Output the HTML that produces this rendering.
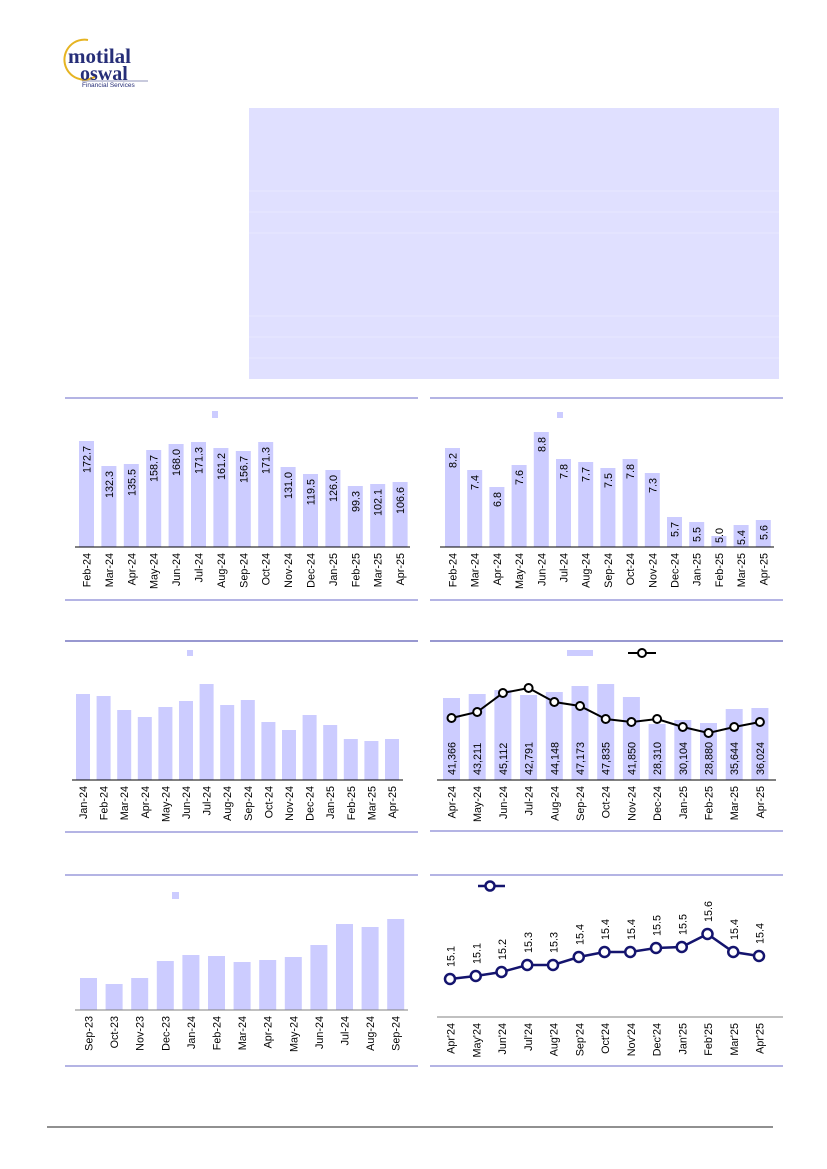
<!DOCTYPE html>
<html><head><meta charset="utf-8"><style>
html,body{margin:0;padding:0;background:#fff}
svg{display:block}
text{font-family:"Liberation Sans",sans-serif}
.t{font-size:10.8px;fill:#000}
.b{fill:#ccccff}
</style></head><body>
<svg width="827" height="1169" viewBox="0 0 827 1169" xmlns="http://www.w3.org/2000/svg">
<!-- logo -->
<path d="M88 40 A20 20 0 1 0 96 76" fill="none" stroke="#e6b422" stroke-width="2"/>
<text x="68" y="63" font-weight="bold" font-size="21" fill="#262e78" style="font-family:'Liberation Serif',serif">motilal</text>
<text x="80" y="80" font-weight="bold" font-size="20" fill="#262e78" style="font-family:'Liberation Serif',serif">oswal</text>
<line x1="82" y1="81" x2="148" y2="81" stroke="#262e78" stroke-width="0.6"/>
<text x="82" y="87" font-size="6.5" fill="#262e78">Financial Services</text>

<!-- top box -->
<rect x="249" y="108" width="530" height="271" fill="#e0e0ff"/>
<g stroke="#e8e8ff" stroke-width="1">
<line x1="249" y1="191" x2="779" y2="191"/><line x1="249" y1="212" x2="779" y2="212"/><line x1="249" y1="233" x2="779" y2="233"/>
<line x1="249" y1="316" x2="779" y2="316"/><line x1="249" y1="337" x2="779" y2="337"/><line x1="249" y1="358" x2="779" y2="358"/>
</g>

<!-- frames -->
<g stroke="#9b9bdc" stroke-width="1.5">
<line x1="65" y1="398" x2="418" y2="398"/><line x1="65" y1="600" x2="418" y2="600"/>
<line x1="430" y1="398" x2="783" y2="398"/><line x1="430" y1="600" x2="783" y2="600"/>
<line x1="65" y1="832" x2="418" y2="832"/><line x1="430" y1="831" x2="783" y2="831"/>
<line x1="65" y1="1066" x2="418" y2="1066"/><line x1="430" y1="1066" x2="783" y2="1066"/>
<line x1="65" y1="875" x2="418" y2="875"/><line x1="430" y1="875" x2="783" y2="875"/>
</g>
<g stroke="#5a5ab4" stroke-width="1.2">
<line x1="65" y1="641" x2="418" y2="641"/><line x1="430" y1="641" x2="783" y2="641"/>
</g>

<!-- Chart 1 -->
<rect x="212" y="411" width="6" height="7" class="b"/>
<g class="b">
<rect x="79" y="441" width="15" height="106"/><rect x="101.4" y="466" width="15" height="81"/><rect x="123.8" y="464" width="15" height="83"/><rect x="146.2" y="450" width="15" height="97"/><rect x="168.6" y="444" width="15" height="103"/><rect x="191" y="442" width="15" height="105"/><rect x="213.4" y="448" width="15" height="99"/><rect x="235.8" y="451" width="15" height="96"/><rect x="258.2" y="442" width="15" height="105"/><rect x="280.6" y="467" width="15" height="80"/><rect x="303" y="474" width="15" height="73"/><rect x="325.4" y="470" width="15" height="77"/><rect x="347.8" y="486" width="15" height="61"/><rect x="370.2" y="484" width="15" height="63"/><rect x="392.6" y="482" width="15" height="65"/>
</g>
<line x1="75" y1="547" x2="410" y2="547" stroke="#000" stroke-width="1"/>
<g class="t" text-anchor="end">
<text transform="translate(90.5,446) rotate(-90)">172.7</text><text transform="translate(112.9,471) rotate(-90)">132.3</text><text transform="translate(135.3,469) rotate(-90)">135.5</text><text transform="translate(157.7,455) rotate(-90)">158.7</text><text transform="translate(180.1,449) rotate(-90)">168.0</text><text transform="translate(202.5,447) rotate(-90)">171.3</text><text transform="translate(224.9,453) rotate(-90)">161.2</text><text transform="translate(247.3,456) rotate(-90)">156.7</text><text transform="translate(269.7,447) rotate(-90)">171.3</text><text transform="translate(292.1,472) rotate(-90)">131.0</text><text transform="translate(314.5,479) rotate(-90)">119.5</text><text transform="translate(336.9,475) rotate(-90)">126.0</text><text transform="translate(359.3,491) rotate(-90)">99.3</text><text transform="translate(381.7,489) rotate(-90)">102.1</text><text transform="translate(404.1,487) rotate(-90)">106.6</text>
<text transform="translate(90.5,553) rotate(-90)">Feb-24</text><text transform="translate(112.9,553) rotate(-90)">Mar-24</text><text transform="translate(135.3,553) rotate(-90)">Apr-24</text><text transform="translate(157.7,553) rotate(-90)">May-24</text><text transform="translate(180.1,553) rotate(-90)">Jun-24</text><text transform="translate(202.5,553) rotate(-90)">Jul-24</text><text transform="translate(224.9,553) rotate(-90)">Aug-24</text><text transform="translate(247.3,553) rotate(-90)">Sep-24</text><text transform="translate(269.7,553) rotate(-90)">Oct-24</text><text transform="translate(292.1,553) rotate(-90)">Nov-24</text><text transform="translate(314.5,553) rotate(-90)">Dec-24</text><text transform="translate(336.9,553) rotate(-90)">Jan-25</text><text transform="translate(359.3,553) rotate(-90)">Feb-25</text><text transform="translate(381.7,553) rotate(-90)">Mar-25</text><text transform="translate(404.1,553) rotate(-90)">Apr-25</text>
</g>

<!-- Chart 2 -->
<rect x="557" y="412" width="6" height="6" class="b"/>
<g class="b">
<rect x="445" y="448" width="15" height="99"/><rect x="467.2" y="470" width="15" height="77"/><rect x="489.4" y="487" width="15" height="60"/><rect x="511.6" y="465" width="15" height="82"/><rect x="533.8" y="432" width="15" height="115"/><rect x="556" y="459" width="15" height="88"/><rect x="578.2" y="462" width="15" height="85"/><rect x="600.4" y="468" width="15" height="79"/><rect x="622.6" y="459" width="15" height="88"/><rect x="644.8" y="473" width="15" height="74"/><rect x="667" y="517" width="15" height="30"/><rect x="689.2" y="522" width="15" height="25"/><rect x="711.4" y="536" width="15" height="11"/><rect x="733.6" y="525" width="15" height="22"/><rect x="755.8" y="520" width="15" height="27"/>
</g>
<line x1="440" y1="547" x2="774" y2="547" stroke="#000" stroke-width="1"/>
<g class="t" text-anchor="end">
<text transform="translate(456.5,453) rotate(-90)">8.2</text><text transform="translate(478.7,475) rotate(-90)">7.4</text><text transform="translate(500.9,492) rotate(-90)">6.8</text><text transform="translate(523.1,470) rotate(-90)">7.6</text><text transform="translate(545.3,437) rotate(-90)">8.8</text><text transform="translate(567.5,464) rotate(-90)">7.8</text><text transform="translate(589.7,467) rotate(-90)">7.7</text><text transform="translate(611.9,473) rotate(-90)">7.5</text><text transform="translate(634.1,464) rotate(-90)">7.8</text><text transform="translate(656.3,478) rotate(-90)">7.3</text><text transform="translate(678.5,522) rotate(-90)">5.7</text><text transform="translate(700.7,527) rotate(-90)">5.5</text><text transform="translate(722.9,528) rotate(-90)">5.0</text><text transform="translate(745.1,530) rotate(-90)">5.4</text><text transform="translate(767.3,525) rotate(-90)">5.6</text>
<text transform="translate(456.5,553) rotate(-90)">Feb-24</text><text transform="translate(478.7,553) rotate(-90)">Mar-24</text><text transform="translate(500.9,553) rotate(-90)">Apr-24</text><text transform="translate(523.1,553) rotate(-90)">May-24</text><text transform="translate(545.3,553) rotate(-90)">Jun-24</text><text transform="translate(567.5,553) rotate(-90)">Jul-24</text><text transform="translate(589.7,553) rotate(-90)">Aug-24</text><text transform="translate(611.9,553) rotate(-90)">Sep-24</text><text transform="translate(634.1,553) rotate(-90)">Oct-24</text><text transform="translate(656.3,553) rotate(-90)">Nov-24</text><text transform="translate(678.5,553) rotate(-90)">Dec-24</text><text transform="translate(700.7,553) rotate(-90)">Jan-25</text><text transform="translate(722.9,553) rotate(-90)">Feb-25</text><text transform="translate(745.1,553) rotate(-90)">Mar-25</text><text transform="translate(767.3,553) rotate(-90)">Apr-25</text>
</g>

<!-- Chart 3 -->
<rect x="187" y="650" width="6" height="6" class="b"/>
<g class="b">
<rect x="76" y="694" width="14" height="86"/><rect x="96.6" y="696" width="14" height="84"/><rect x="117.2" y="710" width="14" height="70"/><rect x="137.8" y="717" width="14" height="63"/><rect x="158.4" y="707" width="14" height="73"/><rect x="179" y="701" width="14" height="79"/><rect x="199.6" y="684" width="14" height="96"/><rect x="220.2" y="705" width="14" height="75"/><rect x="240.8" y="700" width="14" height="80"/><rect x="261.4" y="722" width="14" height="58"/><rect x="282" y="730" width="14" height="50"/><rect x="302.6" y="715" width="14" height="65"/><rect x="323.2" y="725" width="14" height="55"/><rect x="343.8" y="739" width="14" height="41"/><rect x="364.4" y="741" width="14" height="39"/><rect x="385" y="739" width="14" height="41"/>
</g>
<line x1="72" y1="780" x2="403" y2="780" stroke="#000" stroke-width="1"/>
<g class="t" text-anchor="end">
<text transform="translate(87,786) rotate(-90)">Jan-24</text><text transform="translate(107.6,786) rotate(-90)">Feb-24</text><text transform="translate(128.2,786) rotate(-90)">Mar-24</text><text transform="translate(148.8,786) rotate(-90)">Apr-24</text><text transform="translate(169.4,786) rotate(-90)">May-24</text><text transform="translate(190,786) rotate(-90)">Jun-24</text><text transform="translate(210.6,786) rotate(-90)">Jul-24</text><text transform="translate(231.2,786) rotate(-90)">Aug-24</text><text transform="translate(251.8,786) rotate(-90)">Sep-24</text><text transform="translate(272.4,786) rotate(-90)">Oct-24</text><text transform="translate(293,786) rotate(-90)">Nov-24</text><text transform="translate(313.6,786) rotate(-90)">Dec-24</text><text transform="translate(334.2,786) rotate(-90)">Jan-25</text><text transform="translate(354.8,786) rotate(-90)">Feb-25</text><text transform="translate(375.4,786) rotate(-90)">Mar-25</text><text transform="translate(396,786) rotate(-90)">Apr-25</text>
</g>

<!-- Chart 4 -->
<rect x="567" y="650" width="26" height="6" class="b"/>
<line x1="628" y1="653" x2="656" y2="653" stroke="#000" stroke-width="2"/>
<circle cx="642" cy="653" r="4" fill="#fff" stroke="#000" stroke-width="2"/>
<g class="b">
<rect x="443" y="698" width="17" height="82"/><rect x="468.7" y="694" width="17" height="86"/><rect x="494.4" y="690" width="17" height="90"/><rect x="520.1" y="695" width="17" height="85"/><rect x="545.8" y="692" width="17" height="88"/><rect x="571.5" y="686" width="17" height="94"/><rect x="597.2" y="684" width="17" height="96"/><rect x="622.9" y="697" width="17" height="83"/><rect x="648.6" y="724" width="17" height="56"/><rect x="674.3" y="720" width="17" height="60"/><rect x="700" y="723" width="17" height="57"/><rect x="725.7" y="709" width="17" height="71"/><rect x="751.4" y="708" width="17" height="72"/>
</g>
<line x1="437" y1="780" x2="776" y2="780" stroke="#000" stroke-width="1"/>
<g class="t" text-anchor="start">
<text transform="translate(455.5,775) rotate(-90)">41,366</text><text transform="translate(481.2,775) rotate(-90)">43,211</text><text transform="translate(506.9,775) rotate(-90)">45,112</text><text transform="translate(532.6,775) rotate(-90)">42,791</text><text transform="translate(558.3,775) rotate(-90)">44,148</text><text transform="translate(584,775) rotate(-90)">47,173</text><text transform="translate(609.7,775) rotate(-90)">47,835</text><text transform="translate(635.4,775) rotate(-90)">41,850</text><text transform="translate(661.1,775) rotate(-90)">28,310</text><text transform="translate(686.8,775) rotate(-90)">30,104</text><text transform="translate(712.5,775) rotate(-90)">28,880</text><text transform="translate(738.2,775) rotate(-90)">35,644</text><text transform="translate(763.9,775) rotate(-90)">36,024</text>
</g>
<polyline fill="none" stroke="#000" stroke-width="2" points="451.5,718 477.2,712 502.9,693 528.6,688 554.3,702 580,706 605.7,719 631.4,722 657.1,719 682.8,727 708.5,733 734.2,727 759.9,722"/>
<g fill="#fff" stroke="#000" stroke-width="2">
<circle cx="451.5" cy="718" r="4"/><circle cx="477.2" cy="712" r="4"/><circle cx="502.9" cy="693" r="4"/><circle cx="528.6" cy="688" r="4"/><circle cx="554.3" cy="702" r="4"/><circle cx="580" cy="706" r="4"/><circle cx="605.7" cy="719" r="4"/><circle cx="631.4" cy="722" r="4"/><circle cx="657.1" cy="719" r="4"/><circle cx="682.8" cy="727" r="4"/><circle cx="708.5" cy="733" r="4"/><circle cx="734.2" cy="727" r="4"/><circle cx="759.9" cy="722" r="4"/>
</g>
<g class="t" text-anchor="end">
<text transform="translate(455.5,786) rotate(-90)">Apr-24</text><text transform="translate(481.2,786) rotate(-90)">May-24</text><text transform="translate(506.9,786) rotate(-90)">Jun-24</text><text transform="translate(532.6,786) rotate(-90)">Jul-24</text><text transform="translate(558.3,786) rotate(-90)">Aug-24</text><text transform="translate(584,786) rotate(-90)">Sep-24</text><text transform="translate(609.7,786) rotate(-90)">Oct-24</text><text transform="translate(635.4,786) rotate(-90)">Nov-24</text><text transform="translate(661.1,786) rotate(-90)">Dec-24</text><text transform="translate(686.8,786) rotate(-90)">Jan-25</text><text transform="translate(712.5,786) rotate(-90)">Feb-25</text><text transform="translate(738.2,786) rotate(-90)">Mar-25</text><text transform="translate(763.9,786) rotate(-90)">Apr-25</text>
</g>

<!-- Chart 5 -->
<rect x="172" y="892" width="7" height="7" class="b"/>
<g class="b">
<rect x="80" y="978" width="17" height="32"/><rect x="105.6" y="984" width="17" height="26"/><rect x="131.2" y="978" width="17" height="32"/><rect x="156.8" y="961" width="17" height="49"/><rect x="182.4" y="955" width="17" height="55"/><rect x="208" y="956" width="17" height="54"/><rect x="233.6" y="962" width="17" height="48"/><rect x="259.2" y="960" width="17" height="50"/><rect x="284.8" y="957" width="17" height="53"/><rect x="310.4" y="945" width="17" height="65"/><rect x="336" y="924" width="17" height="86"/><rect x="361.6" y="927" width="17" height="83"/><rect x="387.2" y="919" width="17" height="91"/>
</g>
<line x1="75" y1="1010" x2="408" y2="1010" stroke="#808080" stroke-width="1"/>
<g class="t" text-anchor="end">
<text transform="translate(92.5,1016) rotate(-90)">Sep-23</text><text transform="translate(118.1,1016) rotate(-90)">Oct-23</text><text transform="translate(143.7,1016) rotate(-90)">Nov-23</text><text transform="translate(169.3,1016) rotate(-90)">Dec-23</text><text transform="translate(194.9,1016) rotate(-90)">Jan-24</text><text transform="translate(220.5,1016) rotate(-90)">Feb-24</text><text transform="translate(246.1,1016) rotate(-90)">Mar-24</text><text transform="translate(271.7,1016) rotate(-90)">Apr-24</text><text transform="translate(297.3,1016) rotate(-90)">May-24</text><text transform="translate(322.9,1016) rotate(-90)">Jun-24</text><text transform="translate(348.5,1016) rotate(-90)">Jul-24</text><text transform="translate(374.1,1016) rotate(-90)">Aug-24</text><text transform="translate(399.7,1016) rotate(-90)">Sep-24</text>
</g>

<!-- Chart 6 -->
<line x1="478" y1="886" x2="505" y2="886" stroke="#14146e" stroke-width="2.5"/>
<circle cx="490" cy="886" r="4.5" fill="#fff" stroke="#14146e" stroke-width="2.5"/>
<line x1="437" y1="1017" x2="783" y2="1017" stroke="#808080" stroke-width="1"/>
<polyline fill="none" stroke="#14146e" stroke-width="2.5" points="450,979 475.75,976 501.5,972 527.25,965 553,965 578.75,957 604.5,952 630.25,952 656,948 681.75,947 707.5,934 733.25,952 759,956"/>
<g fill="#fff" stroke="#14146e" stroke-width="2.5">
<circle cx="450" cy="979" r="5"/><circle cx="475.75" cy="976" r="5"/><circle cx="501.5" cy="972" r="5"/><circle cx="527.25" cy="965" r="5"/><circle cx="553" cy="965" r="5"/><circle cx="578.75" cy="957" r="5"/><circle cx="604.5" cy="952" r="5"/><circle cx="630.25" cy="952" r="5"/><circle cx="656" cy="948" r="5"/><circle cx="681.75" cy="947" r="5"/><circle cx="707.5" cy="934" r="5"/><circle cx="733.25" cy="952" r="5"/><circle cx="759" cy="956" r="5"/>
</g>
<g class="t" text-anchor="start">
<text transform="translate(454.5,967) rotate(-90)">15.1</text><text transform="translate(480.25,964) rotate(-90)">15.1</text><text transform="translate(506,960) rotate(-90)">15.2</text><text transform="translate(531.75,953) rotate(-90)">15.3</text><text transform="translate(557.5,953) rotate(-90)">15.3</text><text transform="translate(583.25,945) rotate(-90)">15.4</text><text transform="translate(609,940) rotate(-90)">15.4</text><text transform="translate(634.75,940) rotate(-90)">15.4</text><text transform="translate(660.5,936) rotate(-90)">15.5</text><text transform="translate(686.25,935) rotate(-90)">15.5</text><text transform="translate(712,922) rotate(-90)">15.6</text><text transform="translate(737.75,940) rotate(-90)">15.4</text><text transform="translate(763.5,944) rotate(-90)">15.4</text>
</g>
<g class="t" text-anchor="end">
<text transform="translate(454.5,1023) rotate(-90)">Apr'24</text><text transform="translate(480.25,1023) rotate(-90)">May'24</text><text transform="translate(506,1023) rotate(-90)">Jun'24</text><text transform="translate(531.75,1023) rotate(-90)">Jul'24</text><text transform="translate(557.5,1023) rotate(-90)">Aug'24</text><text transform="translate(583.25,1023) rotate(-90)">Sep'24</text><text transform="translate(609,1023) rotate(-90)">Oct'24</text><text transform="translate(634.75,1023) rotate(-90)">Nov'24</text><text transform="translate(660.5,1023) rotate(-90)">Dec'24</text><text transform="translate(686.25,1023) rotate(-90)">Jan'25</text><text transform="translate(712,1023) rotate(-90)">Feb'25</text><text transform="translate(737.75,1023) rotate(-90)">Mar'25</text><text transform="translate(763.5,1023) rotate(-90)">Apr'25</text>
</g>

<!-- footer line -->
<line x1="47" y1="1127" x2="773" y2="1127" stroke="#222" stroke-width="1"/>
</svg>
</body></html>
